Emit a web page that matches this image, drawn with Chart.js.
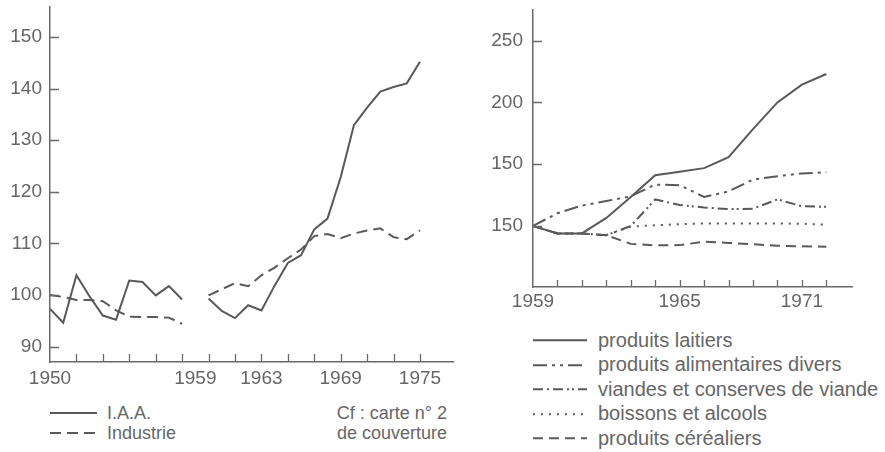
<!DOCTYPE html>
<html>
<head>
<meta charset="utf-8">
<script src="https://cdn.jsdelivr.net/npm/chart.js@4.4.0/dist/chart.umd.min.js"></script>
<style>
  body { margin: 0; background: #fff; width: 885px; height: 452px; position: relative; overflow: hidden;
         font-family: "Liberation Sans", Arial, sans-serif; color: #666; }
  canvas { position: absolute; }
  #leftChart { left: 0; top: 0; }
  #rightChart { left: 460px; top: 0; }
  .legend { position: absolute; }
  .legend .row { display: flex; align-items: center; white-space: nowrap; }
  .legend svg { display: block; }
  .note { position: absolute; text-align: right; white-space: nowrap; }
</style>
</head>
<body>
<canvas id="leftChart" width="460" height="400"></canvas>
<canvas id="rightChart" width="425" height="320"></canvas>
<div class="legend" id="leftLegend" style="left:50px; top:403px; font-size:18px"></div>
<div class="legend" id="rightLegend" style="left:533px; top:328px; font-size:20px"></div>
<div class="note" style="right:438px; top:403px; font-size:18px; line-height:20px">Cf : carte n° 2<br>de couverture</div>
<script>
const LINE = '#595959';
const AXIS = '#6a6a6a';
const TEXT = '#666';
const FAMILY = '"Liberation Sans", Arial, sans-serif';

// left panel: I.A.A. vs industrie, two runs on one axis with a break between them
const iaaEarly = [97.3, 94.6, 103.8, 99.7, 96.0, 95.2, 102.8, 102.5, 99.9, 101.7, 99.1];
const industrieEarly = [100, 99.6, 99.0, 99.0, 98.8, 97.0, 95.8, 95.7, 95.7, 95.6, 94.4];
const iaaLate = [99.3, 96.9, 95.5, 98.0, 97.0, 101.8, 106.2, 107.7, 112.7, 114.8, 122.8, 132.9, 136.3, 139.4, 140.3, 141.0, 145.2];
const industrieLate = [99.9, 101.1, 102.3, 101.7, 103.8, 105.3, 107.1, 108.8, 111.4, 111.8, 111.0, 111.9, 112.5, 112.9, 111.2, 110.8, 112.5];
const lateStart = 12;
const leftXTicks = [0, 11, 16, 22, 28];
const leftXLabels = ['1950', '1959', '1963', '1969', '1975'];
const leftYTicks = [90, 100, 110, 120, 130, 140, 150];

// right panel: branches, 1959 = 100
const rightXTicks = [0, 6, 11];
const rightXLabels = ['1959', '1965', '1971'];
const rightYTicks = [100, 150, 200, 250];
const rightYLabels = ['150', '150', '200', '250'];
const laitiers = [100, 94, 94, 106.5, 123.5, 141, 143.9, 146.8, 155.6, 178.4, 200, 214.4, 223];
const alimentaires = [100, 110.3, 116.5, 120.2, 124, 133.5, 133, 123.5, 128, 137.5, 140.3, 142.5, 143.5];
const viandes = [100, 94, 94, 92.5, 100, 121.5, 117, 115, 113.6, 114, 121.5, 116, 115.5];
const boissons = [null, null, null, 92.5, 99.5, 100.5, 101.5, 102, 102, 102, 102, 101.8, 101];
const cerealiers = [100, 94, 94, 92.5, 85.5, 84.3, 84.5, 87.3, 86.3, 85.2, 84, 83.5, 83.2];

function splitRun(early, late) {
  const pts = early.map((v, i) => ({x: i, y: v}));
  pts.push({x: early.length, y: null});
  late.forEach((v, i) => pts.push({x: lateStart + i, y: v}));
  return pts;
}
function run(values) {
  return values.map((v, i) => ({x: i, y: v}));
}
function line(label, data, dash) {
  return {label, data, borderColor: LINE, borderWidth: 2, borderDash: dash, pointRadius: 0,
          fill: false, tension: 0, spanGaps: false, borderCapStyle: 'butt'};
}

// tick marks drawn inward from the axis lines
const innerTicks = {
  id: 'innerTicks',
  afterDatasetsDraw(chart, args, opts) {
    const {ctx, chartArea, scales} = chart;
    ctx.save();
    ctx.strokeStyle = AXIS;
    ctx.lineWidth = 1.3;
    ctx.beginPath();
    opts.xMarks.forEach(v => {
      const px = Math.round(scales.x.getPixelForValue(v)) + 0.5;
      ctx.moveTo(px, chartArea.bottom);
      ctx.lineTo(px, chartArea.bottom - opts.xLength);
    });
    opts.yMarks.forEach(v => {
      const py = Math.round(scales.y.getPixelForValue(v)) + 0.5;
      ctx.moveTo(chartArea.left, py);
      ctx.lineTo(chartArea.left + opts.yLength, py);
    });
    ctx.stroke();
    ctx.restore();
  }
};

// fixed axis boxes, no extra room reserved for half labels
function noPad(s) {
  s.paddingTop = 0; s.paddingBottom = 0; s.paddingLeft = 0; s.paddingRight = 0;
}

function axes(o) {
  return {
    x: {
      type: 'linear', min: o.xMin, max: o.xMax,
      afterBuildTicks: s => { s.ticks = o.xTicks.map(v => ({value: v})); },
      afterFit: s => { s.height = o.xHeight; noPad(s); },
      ticks: {color: TEXT, font: {family: FAMILY, size: 19}, padding: o.xPad, maxRotation: 0, autoSkip: false,
              callback: v => o.xLabels[o.xTicks.indexOf(v)]},
      grid: {drawOnChartArea: false, drawTicks: false},
      border: {color: AXIS, width: 1.5}
    },
    y: {
      type: 'linear', min: o.yMin, max: o.yMax,
      afterBuildTicks: s => { s.ticks = o.yTicks.map(v => ({value: v})); },
      afterFit: s => { s.width = o.yWidth; noPad(s); },
      ticks: {color: TEXT, font: {family: FAMILY, size: 19}, padding: o.yPad,
              callback: v => o.yLabels ? o.yLabels[o.yTicks.indexOf(v)] : String(v)},
      grid: {drawOnChartArea: false, drawTicks: false},
      border: {color: AXIS, width: 1.5}
    }
  };
}

const leftMarks = [];
for (let s = 2; s <= 28; s += 2) leftMarks.push(s);

const leftChart = new Chart(document.getElementById('leftChart'), {
  type: 'line',
  data: {datasets: [
    line('I.A.A.', splitRun(iaaEarly, iaaLate), []),
    line('Industrie', splitRun(industrieEarly, industrieLate), [11, 6])
  ]},
  options: {
    responsive: false, animation: false, devicePixelRatio: 1,
    layout: {padding: {top: 7, right: 7, left: 0, bottom: 0}},
    scales: axes({xMin: 0, xMax: 30.5, xTicks: leftXTicks, xLabels: leftXLabels, xHeight: 38, xPad: 5,
                  yMin: 87, yMax: 155.8, yTicks: leftYTicks, yWidth: 50, yPad: 8}),
    plugins: {
      legend: {display: false}, tooltip: {enabled: false},
      innerTicks: {xMarks: leftMarks, yMarks: leftYTicks, xLength: 8, yLength: 9}
    }
  },
  plugins: [innerTicks]
});

const rightMarks = [];
for (let k = 1; k <= 12; k++) rightMarks.push(k);

const rightChart = new Chart(document.getElementById('rightChart'), {
  type: 'line',
  data: {datasets: [
    line('produits laitiers', run(laitiers), []),
    line('produits alimentaires divers', run(alimentaires), [14, 5, 3, 5, 3, 5]),
    line('viandes et conserves de viande', run(viandes), [10, 4, 2, 4, 10, 4, 2, 3, 2, 4]),
    line('boissons et alcools', run(boissons), [2, 6]),
    line('produits céréaliers', run(cerealiers), [10, 6])
  ]},
  options: {
    responsive: false, animation: false, devicePixelRatio: 1,
    layout: {padding: {top: 10, right: 33, left: 0, bottom: 0}},
    scales: axes({xMin: 0, xMax: 13.05, xTicks: rightXTicks, xLabels: rightXLabels, xHeight: 33, xPad: 3,
                  yMin: 50.6, yMax: 274.8, yTicks: rightYTicks, yLabels: rightYLabels, yWidth: 73, yPad: 10}),
    plugins: {
      legend: {display: false}, tooltip: {enabled: false},
      innerTicks: {xMarks: rightMarks, yMarks: rightYTicks, xLength: 7, yLength: 9}
    }
  },
  plugins: [innerTicks]
});

// legends built from the datasets' own line styles
function htmlLegend(chart, el, sample, gap, rowHeight) {
  chart.data.datasets.forEach(ds => {
    const row = document.createElement('div');
    row.className = 'row';
    row.style.height = rowHeight + 'px';
    const mid = rowHeight / 2;
    row.innerHTML =
      `<svg width="${sample}" height="${rowHeight}"><line x1="0" y1="${mid}" x2="${sample}" y2="${mid}" ` +
      `stroke="${ds.borderColor}" stroke-width="${ds.borderWidth}" stroke-dasharray="${ds.borderDash.join(' ')}"/></svg>` +
      `<span style="margin-left:${gap}px">${ds.label}</span>`;
    el.appendChild(row);
  });
}
htmlLegend(leftChart, document.getElementById('leftLegend'), 47, 10, 20);
htmlLegend(rightChart, document.getElementById('rightLegend'), 54, 11, 24.5);
</script>
</body>
</html>
